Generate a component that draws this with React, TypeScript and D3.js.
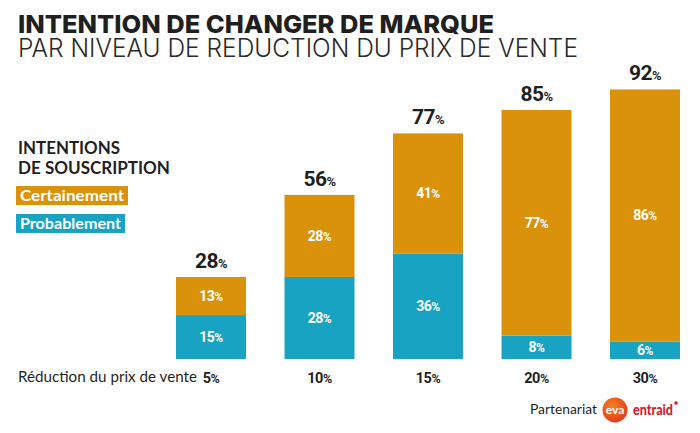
import React from "react";
import * as d3 from "d3";

const categories = ["5%", "10%", "15%", "20%", "30%"];
const probablement = [15, 28, 36, 8, 6];
const certainement = [13, 28, 41, 77, 86];
const totals = [28, 56, 77, 85, 92];

const ORANGE = "#D9920A";
const BLUE = "#18A3C3";
const DARK = "#1f1f1f";

export default function App() {
  const W = 700, H = 433;
  const x = d3.scaleBand<string>().domain(categories).range([176, 680]).paddingInner(0.355).paddingOuter(0);
  const y = d3.scaleLinear().domain([0, 100]).range([359, 66]);
  const bw = x.bandwidth();

  const pct = (v: number, big: number, small: number) => (
    <>
      <tspan fontSize={big}>{v}</tspan>
      <tspan fontSize={small}>%</tspan>
    </>
  );

  return (
    <svg width={W} height={H} style={{ position: "absolute", left: 0, top: 0, background: "#fff" }}>
      <text x={18} y={33} fontFamily="Inter" fontWeight={800} fontSize={25} fill={DARK} textLength={476} lengthAdjust="spacingAndGlyphs">
        INTENTION DE CHANGER DE MARQUE
      </text>
      <text x={18} y={57} fontFamily="Inter" fontWeight={300} fontSize={25} fill="#2a2a2a" textLength={560} lengthAdjust="spacingAndGlyphs">
        PAR NIVEAU DE REDUCTION DU PRIX DE VENTE
      </text>

      <text x={18} y={154} fontFamily="Lato" fontWeight={700} fontSize={16.5} fill={DARK} textLength={102} lengthAdjust="spacingAndGlyphs">INTENTIONS</text>
      <text x={18} y={174} fontFamily="Lato" fontWeight={700} fontSize={16.5} fill={DARK} textLength={152} lengthAdjust="spacingAndGlyphs">DE SOUSCRIPTION</text>
      <rect x={16} y={186} width={112} height={19} fill={ORANGE} />
      <text x={20} y={201} fontFamily="Lato" fontWeight={700} fontSize={15} fill="#fff" textLength={104} lengthAdjust="spacingAndGlyphs">Certainement</text>
      <rect x={16} y={214} width={109} height={19} fill={BLUE} />
      <text x={20} y={229} fontFamily="Lato" fontWeight={700} fontSize={15} fill="#fff" textLength={101} lengthAdjust="spacingAndGlyphs">Probablement</text>

      {categories.map((c, i) => {
        const x0 = x(c)!;
        const cx = x0 + bw / 2;
        const p = probablement[i];
        const ce = certainement[i];
        const yP = y(p);
        const yT = y(p + ce);
        return (
          <g key={c}>
            <rect x={x0} y={yP} width={bw} height={y(0) - yP} fill={BLUE} />
            <rect x={x0} y={yT} width={bw} height={yP - yT} fill={ORANGE} />
            <text x={cx} y={(y(0) + yP) / 2 + 5} textAnchor="middle" fontFamily="Roboto" fontWeight={700} fill="#fff" letterSpacing={-0.5}>
              {pct(p, 14, 12)}
            </text>
            <text x={cx} y={(yP + yT) / 2 + 5} textAnchor="middle" fontFamily="Roboto" fontWeight={700} fill="#fff" letterSpacing={-0.5}>
              {pct(ce, 14, 12)}
            </text>
            <text x={cx} y={yT - 9} textAnchor="middle" fontFamily="Roboto" fontWeight={700} fill={DARK} letterSpacing={-0.5}>
              {pct(totals[i], 21, 13)}
            </text>
            <text x={cx} y={383} textAnchor="middle" fontFamily="Roboto" fontWeight={700} fill={DARK} letterSpacing={-0.5}>
              {pct(parseInt(c), 14.5, 12.5)}
            </text>
          </g>
        );
      })}

      <text x={18} y={382} fontFamily="Lato" fontSize={14.5} fill={DARK} textLength={179} lengthAdjust="spacingAndGlyphs">Réduction du prix de vente</text>

      <text x={530} y={414} fontFamily="Lato" fontSize={13} fill={DARK} textLength={67} lengthAdjust="spacingAndGlyphs">Partenariat</text>
      <defs>
        <radialGradient id="evaG" cx="40%" cy="35%" r="70%">
          <stop offset="0%" stopColor="#F7821F" />
          <stop offset="100%" stopColor="#E2381B" />
        </radialGradient>
      </defs>
      <circle cx={615} cy={410} r={12.5} fill="url(#evaG)" />
      <text x={615} y={414} textAnchor="middle" fontFamily="Lato" fontWeight={700} fontSize={12} fill="#fff">eva</text>
      <text x={633} y={415} fontFamily="Lato" fontWeight={900} fontSize={15} fill="#D0202E" textLength={40} lengthAdjust="spacingAndGlyphs">entraid</text>
      <circle cx={676} cy={403} r={1.8} fill="#D0202E" />
    </svg>
  );
}
